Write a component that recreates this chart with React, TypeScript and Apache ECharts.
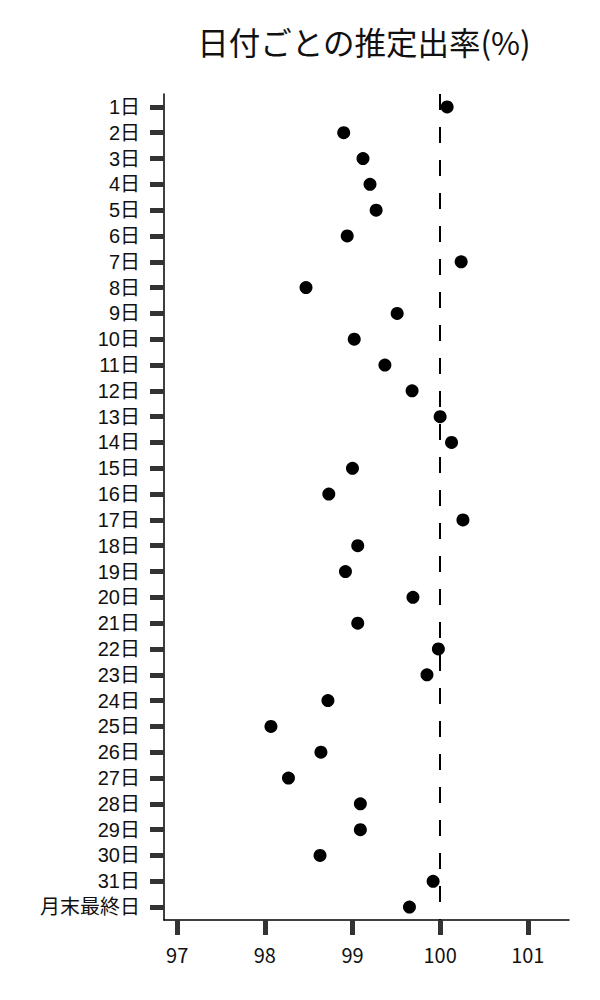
import React, { useEffect, useRef } from "react";
import * as echarts from "echarts";

const TITLE = "日付ごとの推定出率(%)";
const DAYS = [
  "1日", "2日", "3日", "4日", "5日", "6日", "7日", "8日", "9日", "10日",
  "11日", "12日", "13日", "14日", "15日", "16日", "17日", "18日", "19日", "20日",
  "21日", "22日", "23日", "24日", "25日", "26日", "27日", "28日", "29日", "30日",
  "31日", "月末最終日",
];
const RATES = [
  100.08, 98.9, 99.12, 99.2, 99.27, 98.94, 100.24, 98.47, 99.51, 99.02,
  99.37, 99.68, 100.0, 100.13, 99.0, 98.73, 100.26, 99.06, 98.92, 99.69,
  99.06, 99.98, 99.85, 98.72, 98.07, 98.64, 98.27, 99.09, 99.09, 98.63,
  99.92, 99.65,
];
const X_MIN = 96.85;
const X_MAX = 101.47;
const X_TICKS = [97, 98, 99, 100, 101];
const REF_LINE = 100;

const FONT = "'Noto Sans CJK JP', 'Noto Sans', sans-serif";
const LABEL_FONT = "'Liberation Sans', 'Noto Sans CJK JP', sans-serif";

export default function App() {
  const ref = useRef<HTMLDivElement>(null);
  useEffect(() => {
    document.body.style.margin = "0";
    if (!ref.current) return;
    const chart = echarts.init(ref.current, null, { renderer: "svg" });
    chart.setOption({
      animation: false,
      backgroundColor: "#ffffff",
      title: {
        text: TITLE,
        left: 359,
        textAlign: "center",
        top: 20,
        textStyle: { fontFamily: FONT, fontSize: 31.5, fontWeight: "normal", color: "#111" },
      },
      grid: { left: 164, right: 31, top: 94, bottom: 80 },
      xAxis: {
        type: "value",
        min: X_MIN,
        max: X_MAX,
        splitLine: { show: false },
        axisLine: { show: true, onZero: false, lineStyle: { color: "#000", width: 1.5 } },
        axisTick: {
          show: true,
          length: 15,
          customValues: X_TICKS,
          lineStyle: { color: "#333", width: 5 },
        },
        axisLabel: {
          fontFamily: FONT,
          fontSize: 20,
          color: "#111",
          margin: 24,
          customValues: X_TICKS,
        },
      },
      yAxis: {
        type: "category",
        data: DAYS,
        inverse: true,
        axisLine: { show: true, lineStyle: { color: "#000", width: 1.5 } },
        axisTick: {
          show: true,
          alignWithLabel: true,
          interval: 0,
          length: 14,
          lineStyle: { color: "#333", width: 5 },
        },
        axisLabel: {
          fontFamily: LABEL_FONT,
          fontSize: 20,
          lineHeight: 22,
          color: "#111",
          margin: 24,
          interval: 0,
        },
        splitLine: { show: false },
      },
      series: [
        {
          type: "scatter",
          data: RATES.map((v, i) => [v, DAYS[i]]),
          symbol: "circle",
          symbolSize: 13,
          itemStyle: { color: "#000", opacity: 1 },
          z: 3,
          markLine: {
            silent: true,
            symbol: "none",
            label: { show: false },
            lineStyle: { color: "#000", width: 2, type: [16, 17] },
            data: [{ xAxis: REF_LINE }],
            z: 2,
          },
        },
      ],
    });
    return () => chart.dispose();
  }, []);
  return <div ref={ref} style={{ width: 600, height: 1000 }} />;
}
